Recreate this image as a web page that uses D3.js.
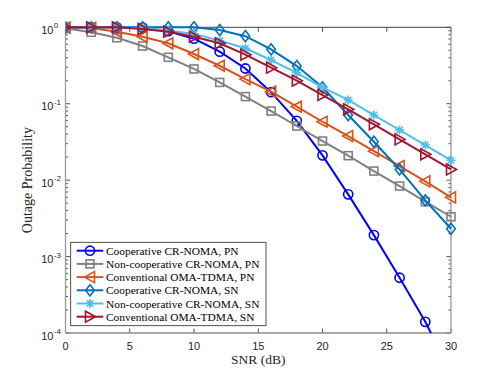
<!DOCTYPE html>
<html>
<head>
  <style>
    body{ margin:0; background:#fff; }
    .tick-label{ font-family:"Liberation Sans", Arial, sans-serif; font-size:11px; fill:#262626; }
    .axis-title{ font-family:"Liberation Serif", "Times New Roman", serif; font-size:13.5px; fill:#262626; }
    .legend-text{ font-family:"Liberation Serif", "Times New Roman", serif; font-size:11.4px; fill:#000; }
  </style>
  <script src="https://d3js.org/d3.v7.min.js"></script>
</head>
<body>
<div id="chart"></div>
<script>
// SNR (dB) values
const snr = [0, 2, 4, 6, 8, 10, 12, 14, 16, 18, 20, 22, 24, 26, 28, 30];

// outage probability per scheme
const coopPN    = [1.0, 1.0, 1.0, 0.99, 0.89, 0.71, 0.48, 0.289, 0.1415, 0.0597, 0.0211, 0.00652, 0.00191, 0.000528, 0.00014, 0.00003];
const noncoopPN = [0.97, 0.86, 0.73, 0.569, 0.405, 0.285, 0.19, 0.124, 0.0802, 0.0511, 0.0325, 0.0209, 0.01315, 0.00837, 0.00522, 0.00332];
const omaPN     = [0.99, 0.98, 0.876, 0.753, 0.618, 0.447, 0.314, 0.21, 0.1436, 0.0914, 0.0581, 0.0378, 0.024, 0.0153, 0.00964, 0.00596];
const coopSN    = [1.0, 1.0, 1.0, 1.0, 1.0, 1.0, 0.92, 0.765, 0.515, 0.311, 0.164, 0.0711, 0.0318, 0.0138, 0.00545, 0.00231];
const noncoopSN = [1.0, 1.0, 1.0, 0.98, 0.91, 0.82, 0.67, 0.531, 0.373, 0.254, 0.164, 0.112, 0.0711, 0.0453, 0.0288, 0.0182];
const omaSN     = [1.0, 1.0, 1.0, 0.95, 0.876, 0.753, 0.618, 0.438, 0.296, 0.2, 0.13, 0.0845, 0.0538, 0.0342, 0.0218, 0.0138];

const xTicks = [0, 5, 10, 15, 20, 25, 30];
const yDecades = [0, -1, -2, -3, -4];

const series = [
  {name:'Cooperative CR-NOMA, PN',     values:coopPN,    color:'#0000ff', marker:'circle'},
  {name:'Non-cooperative CR-NOMA, PN', values:noncoopPN, color:'#808080', marker:'square'},
  {name:'Conventional OMA-TDMA, PN',   values:omaPN,     color:'#d95319', marker:'triLeft'},
  {name:'Cooperative CR-NOMA, SN',     values:coopSN,    color:'#0072bd', marker:'diamond'},
  {name:'Non-cooperative CR-NOMA, SN', values:noncoopSN, color:'#4dbeee', marker:'star'},
  {name:'Conventional OMA-TDMA, SN',   values:omaSN,     color:'#a2142f', marker:'triRight'}
];

const width = 498, height = 374;
const margin = {left:65.5, right:47, top:27.3, bottom:41};

const svg = d3.select('#chart').append('svg')
  .attr('width', width).attr('height', height);

const x = d3.scaleLinear().domain([0, 30]).range([margin.left, width - margin.right]);
const y = d3.scaleLog().domain([1e-4, 1]).range([height - margin.bottom, margin.top]);

const x0 = x.range()[0], x1 = x.range()[1];
const y0 = y.range()[0], y1 = y.range()[1];

svg.append('clipPath').attr('id', 'plot-clip')
  .append('rect').attr('x', x0).attr('y', y1 - 8).attr('width', x1 - x0 + 8).attr('height', y0 - y1 + 8);

// ticks (inward, both sides)
const tickG = svg.append('g').attr('stroke', '#262626').attr('stroke-width', 0.8);
xTicks.forEach(t => {
  tickG.append('line').attr('x1', x(t)).attr('x2', x(t)).attr('y1', y0).attr('y2', y0 - 4.5);
  tickG.append('line').attr('x1', x(t)).attr('x2', x(t)).attr('y1', y1).attr('y2', y1 + 4.5);
});
yDecades.forEach(d => {
  const v = Math.pow(10, d);
  tickG.append('line').attr('x1', x0).attr('x2', x0 + 4.5).attr('y1', y(v)).attr('y2', y(v));
  tickG.append('line').attr('x1', x1).attr('x2', x1 - 4.5).attr('y1', y(v)).attr('y2', y(v));
  if (d < 0) {
    for (let m = 2; m <= 9; m++) {
      const mv = m * v;
      tickG.append('line').attr('x1', x0).attr('x2', x0 + 2.5).attr('y1', y(mv)).attr('y2', y(mv));
      tickG.append('line').attr('x1', x1).attr('x2', x1 - 2.5).attr('y1', y(mv)).attr('y2', y(mv));
    }
  }
});

// axes box
svg.append('line').attr('x1', x0).attr('x2', x1).attr('y1', y1).attr('y2', y1)
  .attr('stroke', '#404040').attr('stroke-width', 1);
svg.append('line').attr('x1', x0).attr('x2', x1).attr('y1', y0).attr('y2', y0)
  .attr('stroke', '#8c8c8c').attr('stroke-width', 1.3);
svg.append('line').attr('x1', x0).attr('x2', x0).attr('y1', y1).attr('y2', y0)
  .attr('stroke', '#9a9a9a').attr('stroke-width', 1.3);
svg.append('line').attr('x1', x1).attr('x2', x1).attr('y1', y1).attr('y2', y0)
  .attr('stroke', '#9a9a9a').attr('stroke-width', 1.3);

// tick labels
xTicks.forEach(t => {
  svg.append('text').attr('class', 'tick-label')
    .attr('x', x(t)).attr('y', y0 + 17).attr('text-anchor', 'middle').text(t);
});
yDecades.forEach(d => {
  const tx = svg.append('text').attr('class', 'tick-label')
    .attr('x', 53.5).attr('y', y(Math.pow(10, d)) + 6.5).attr('text-anchor', 'end');
  tx.text('10');
  svg.append('text').attr('class', 'tick-label').style('font-size', '8px')
    .attr('x', 53.8).attr('y', y(Math.pow(10, d)) + 1).text(d);
});

// axis titles
svg.append('text').attr('class', 'axis-title')
  .attr('x', (x0 + x1) / 2).attr('y', y0 + 31).attr('text-anchor', 'middle').text('SNR (dB)');
svg.append('text').attr('class', 'axis-title').style('font-size', '14px')
  .attr('transform', `translate(31.5,${(y0 + y1) / 2}) rotate(-90)`)
  .attr('text-anchor', 'middle').text('Outage Probability');

// marker drawing
function drawMarker(g, kind, cx, cy, color) {
  const s = 4.6;
  if (kind === 'circle') {
    g.append('circle').attr('cx', cx).attr('cy', cy).attr('r', s)
      .attr('fill', 'none').attr('stroke', color).attr('stroke-width', 1.6);
  } else if (kind === 'square') {
    g.append('rect').attr('x', cx - 4).attr('y', cy - 4).attr('width', 8).attr('height', 8)
      .attr('fill', 'none').attr('stroke', color).attr('stroke-width', 1.6);
  } else if (kind === 'diamond') {
    g.append('path').attr('d', `M${cx},${cy - 5.6}L${cx + 4.3},${cy}L${cx},${cy + 5.6}L${cx - 4.3},${cy}Z`)
      .attr('fill', 'none').attr('stroke', color).attr('stroke-width', 1.6);
  } else if (kind === 'triLeft') {
    g.append('path').attr('d', `M${cx - 5.5},${cy}L${cx + 4.5},${cy - 5.5}L${cx + 4.5},${cy + 5.5}Z`)
      .attr('fill', 'none').attr('stroke', color).attr('stroke-width', 1.6);
  } else if (kind === 'triRight') {
    g.append('path').attr('d', `M${cx + 5.5},${cy}L${cx - 4.5},${cy - 5.5}L${cx - 4.5},${cy + 5.5}Z`)
      .attr('fill', 'none').attr('stroke', color).attr('stroke-width', 1.6);
  } else if (kind === 'star') {
    const r = 4.5, d = r * 0.72;
    g.append('path')
      .attr('d', `M${cx - r},${cy}L${cx + r},${cy}M${cx},${cy - r}L${cx},${cy + r}` +
                 `M${cx - d},${cy - d}L${cx + d},${cy + d}M${cx - d},${cy + d}L${cx + d},${cy - d}`)
      .attr('stroke', color).attr('stroke-width', 1.6).attr('fill', 'none');
  }
}

const line = d3.line().x((d, i) => x(snr[i])).y(d => y(d));
const plot = svg.append('g').attr('clip-path', 'url(#plot-clip)');

series.forEach(s => {
  const g = plot.append('g');
  g.append('path').attr('d', line(s.values))
    .attr('fill', 'none').attr('stroke', s.color).attr('stroke-width', 2);
  s.values.forEach((v, i) => {
    if (v >= 1e-4) drawMarker(g, s.marker, x(snr[i]), y(v), s.color);
  });
});

// legend
const lg = svg.append('g');
lg.append('rect').attr('x', 70.7).attr('y', 242.3).attr('width', 195.3).attr('height', 83.4)
  .attr('fill', '#fff').attr('stroke', '#262626').attr('stroke-width', 0.8);
series.forEach((s, i) => {
  const ry = 250.7 + i * 13.2;
  lg.append('line').attr('x1', 76.7).attr('x2', 103.3).attr('y1', ry).attr('y2', ry)
    .attr('stroke', s.color).attr('stroke-width', 2);
  drawMarker(lg, s.marker, 90, ry, s.color);
  lg.append('text').attr('class', 'legend-text').attr('x', 106).attr('y', ry + 4).text(s.name);
});
</script>
</body>
</html>
